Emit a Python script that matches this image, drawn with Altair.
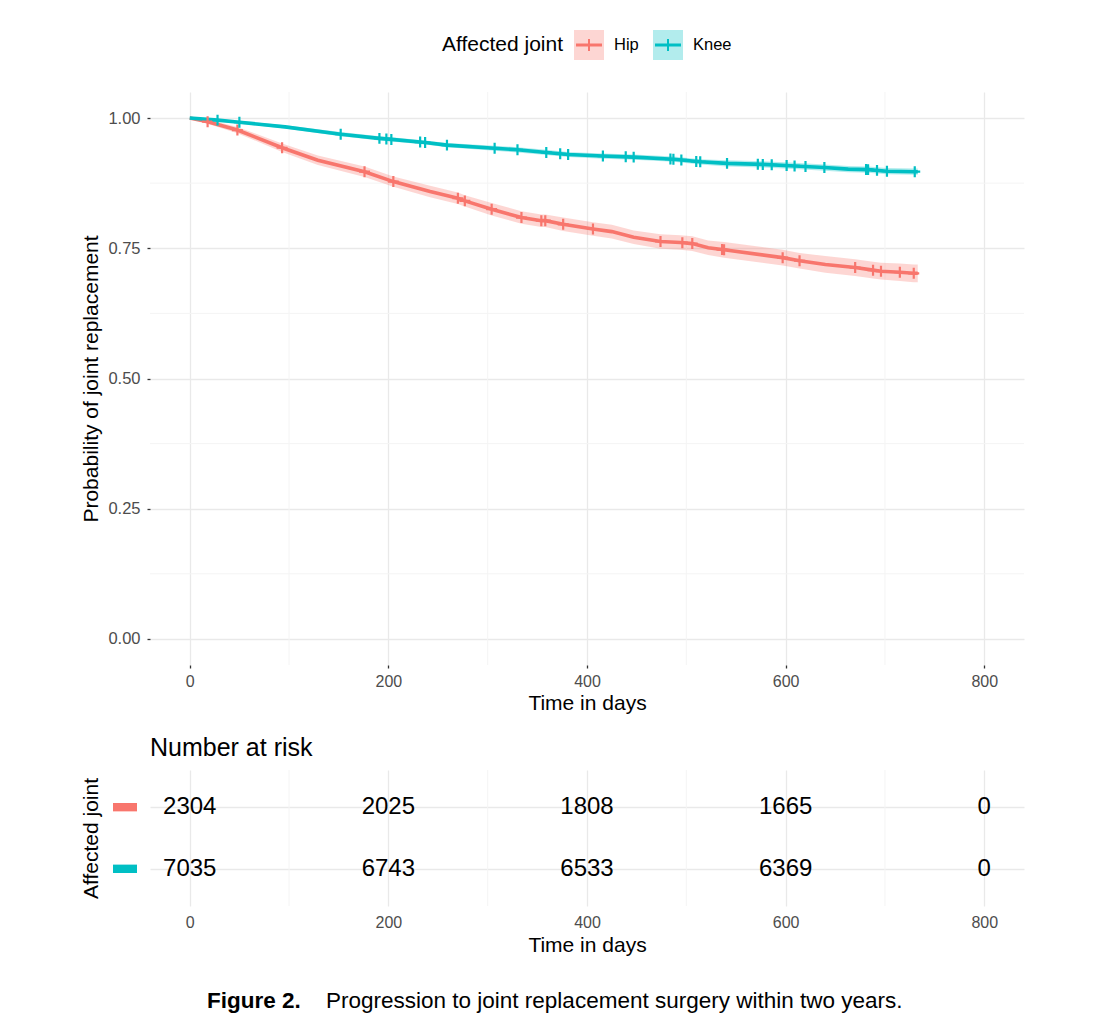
import altair as alt
import numpy as np
import pandas as pd

FONT = "Liberation Sans"

# Groups and their ggplot-style hues
groups = ["Hip", "Knee"]
colors = ["#F8766D", "#00BFC4"]

# Kaplan-Meier estimates (days, survival probability, CI half-width)
hip_time = [0, 18, 48, 93, 129, 176, 205, 242, 270, 277, 304, 334, 354, 358, 376, 406,
            425, 447, 474, 494, 506, 522, 538, 597, 614, 640, 670, 688, 696, 715, 729, 733]
hip_surv = [1.0, 0.993, 0.977, 0.943, 0.919, 0.897, 0.878, 0.859, 0.846, 0.841, 0.825,
            0.809, 0.803, 0.803, 0.796, 0.787, 0.782, 0.771, 0.763, 0.761, 0.759, 0.751,
            0.747, 0.732, 0.726, 0.719, 0.713, 0.708, 0.706, 0.704, 0.702, 0.702]
hip_half = [0.0, 0.004, 0.006, 0.008, 0.009, 0.010, 0.010, 0.011, 0.011, 0.011, 0.012,
            0.012, 0.012, 0.012, 0.013, 0.013, 0.013, 0.013, 0.014, 0.014, 0.014, 0.014,
            0.015, 0.015, 0.015, 0.016, 0.016, 0.016, 0.016, 0.017, 0.017, 0.017]
hip_censor = [18, 48, 93, 176, 205, 270, 277, 304, 334, 354, 358, 376, 406, 474, 496,
              506, 536, 538, 597, 614, 670, 688, 696, 715, 729]

knee_time = [0, 28, 50, 96, 152, 191, 203, 237, 259, 307, 330, 359, 381, 416, 447, 487,
             514, 541, 577, 609, 639, 663, 683, 702, 730, 733]
knee_surv = [1.0, 0.996, 0.992, 0.983, 0.969, 0.961, 0.959, 0.953, 0.948, 0.942, 0.939,
             0.934, 0.930, 0.927, 0.925, 0.921, 0.916, 0.913, 0.911, 0.908, 0.905, 0.902,
             0.901, 0.898, 0.897, 0.897]
knee_half = [0.0, 0.002, 0.003, 0.003, 0.004, 0.004, 0.004, 0.004, 0.004, 0.005, 0.005,
             0.005, 0.005, 0.005, 0.005, 0.005, 0.005, 0.006, 0.006, 0.006, 0.006, 0.006,
             0.006, 0.006, 0.006, 0.006]
knee_censor = [28, 50, 152, 191, 198, 203, 232, 237, 259, 307, 330, 359, 373, 381, 416,
               439, 447, 484, 487, 495, 510, 514, 541, 572, 577, 586, 601, 609, 620, 639,
               681, 683, 692, 702, 730]

# Number at risk table
risk_times = [0, 200, 400, 600, 800]
hip_risk = [2304, 2025, 1808, 1665, 0]
knee_risk = [7035, 6743, 6533, 6369, 0]

x_breaks = [0, 200, 400, 600, 800]
x_minor = [100, 300, 500, 700]
y_breaks = [0.0, 0.25, 0.5, 0.75, 1.0]
y_minor = [0.125, 0.375, 0.625, 0.875]

caption_label = "Figure 2."
caption_text = "Progression to joint replacement surgery within two years."

# ---- tables built from the arrays above ----
curves = pd.concat([
    pd.DataFrame({"time": hip_time, "surv": hip_surv,
                  "lower": np.array(hip_surv) - np.array(hip_half),
                  "upper": np.array(hip_surv) + np.array(hip_half),
                  "joint": "Hip", "order": range(len(hip_time))}),
    pd.DataFrame({"time": knee_time, "surv": knee_surv,
                  "lower": np.array(knee_surv) - np.array(knee_half),
                  "upper": np.array(knee_surv) + np.array(knee_half),
                  "joint": "Knee", "order": range(len(knee_time))}),
])
censors = pd.concat([
    pd.DataFrame({"time": hip_censor, "surv": np.interp(hip_censor, hip_time, hip_surv),
                  "joint": "Hip"}),
    pd.DataFrame({"time": knee_censor, "surv": np.interp(knee_censor, knee_time, knee_surv),
                  "joint": "Knee"}),
])
risk = pd.concat([
    pd.DataFrame({"time": risk_times, "n": hip_risk, "joint": "Hip"}),
    pd.DataFrame({"time": risk_times, "n": knee_risk, "joint": "Knee"}),
])
minor_x = pd.DataFrame({"x": x_minor})
minor_y = pd.DataFrame({"y": y_minor})
caption = pd.DataFrame({"label": [caption_label], "text": [caption_text]})

x_scale = alt.Scale(domain=[-40, 840], nice=False, zero=False)
y_scale = alt.Scale(domain=[-0.05, 1.05], nice=False, zero=False)
color_scale = alt.Scale(domain=groups, range=colors)

GRID = "#e9e9e9"
MINOR = "#f4f4f4"


def x_axis(ticks):
    return alt.Axis(values=x_breaks, grid=True, gridColor=GRID, gridWidth=1.3,
                    domain=False, ticks=ticks, tickColor="#333333", tickSize=3,
                    tickWidth=1.3, labelFontSize=16, labelColor="#4d4d4d",
                    labelPadding=5 if ticks else 8, labelFont=FONT, title="Time in days",
                    titleFontSize=21, titleFontWeight="normal", titleColor="black",
                    titleFont=FONT, titlePadding=3 if ticks else 4)


x_enc = alt.X("time:Q", scale=x_scale, axis=x_axis(True))
y_enc = alt.Y("surv:Q", scale=y_scale,
              axis=alt.Axis(values=y_breaks, format=".2f", grid=True, gridColor=GRID,
                            gridWidth=1.3, domain=False, tickColor="#333333", tickSize=3,
                            tickWidth=1.3, labelFontSize=16.5, labelColor="#4d4d4d",
                            labelPadding=7, labelFont=FONT,
                            title="Probability of joint replacement", titleFontSize=21,
                            titleFontWeight="normal", titleColor="black", titleFont=FONT,
                            titlePadding=6))
color_enc = alt.Color("joint:N", scale=color_scale, legend=None)

minor_v = alt.Chart(minor_x).mark_rule(color=MINOR, strokeWidth=1).encode(x=alt.X("x:Q", scale=x_scale))
minor_h = alt.Chart(minor_y).mark_rule(color=MINOR, strokeWidth=1).encode(y=alt.Y("y:Q", scale=y_scale))

band = alt.Chart(curves).mark_area(opacity=0.3).encode(
    x=alt.X("time:Q", scale=x_scale),
    y=alt.Y("lower:Q", scale=y_scale), y2="upper:Q",
    fill=alt.Fill("joint:N", scale=color_scale, legend=None),
    detail="joint:N")
line = alt.Chart(curves).mark_line(strokeWidth=3.6).encode(
    x=x_enc, y=y_enc, color=color_enc, order="order:Q")
plus = alt.Chart(censors).mark_point(
    shape="M-1,0L1,0M0,-1L0,1", size=120, strokeWidth=2.2, filled=False, opacity=1
).encode(x=alt.X("time:Q", scale=x_scale), y=alt.Y("surv:Q", scale=y_scale), color=color_enc)

# Legend drawn above the panel: title, shaded key boxes with line and cross, labels
legend_layers = [
    alt.Chart(caption).mark_text(align="right", baseline="middle", fontSize=21,
                                 font=FONT, color="black").encode(
        x=alt.value(413), y=alt.value(-47), text=alt.value("Affected joint")),
]
key_left = [424, 503]
for g, c, kx in zip(groups, colors, key_left):
    legend_layers += [
        alt.Chart(caption).mark_rect(color=c, opacity=0.3).encode(
            x=alt.value(kx), x2=alt.value(kx + 30), y=alt.value(-62), y2=alt.value(-32)),
        alt.Chart(caption).mark_rule(color=c, strokeWidth=3).encode(
            x=alt.value(kx + 2), x2=alt.value(kx + 28), y=alt.value(-47)),
        alt.Chart(caption).mark_rule(color=c, strokeWidth=2).encode(
            x=alt.value(kx + 15), y=alt.value(-53), y2=alt.value(-41)),
        alt.Chart(caption).mark_text(align="left", baseline="middle", fontSize=16.5,
                                     font=FONT, color="black").encode(
            x=alt.value(kx + 40), y=alt.value(-47), text=alt.value(g)),
    ]

top = alt.layer(minor_v, minor_h, band, line, plus, *legend_layers).properties(
    width=874, height=573)

# Number-at-risk table
row_scale = alt.Scale(type="point", domain=groups, padding=0.6)
row_axis = alt.Axis(labels=False, ticks=False, domain=False, grid=True, gridColor=GRID,
                    gridWidth=1.3, title="Affected joint", titleFontSize=21,
                    titleFontWeight="normal", titleColor="black", titleFont=FONT,
                    titlePadding=49)

t_minor = alt.Chart(minor_x).mark_rule(color=MINOR, strokeWidth=1).encode(x=alt.X("x:Q", scale=x_scale))
t_text = alt.Chart(risk).mark_text(fontSize=24, font=FONT, color="black").encode(
    x=alt.X("time:Q", scale=x_scale, axis=x_axis(False)),
    y=alt.Y("joint:N", scale=row_scale, axis=row_axis, sort=groups),
    text="n:Q")
t_keys = alt.Chart(risk).mark_rule(strokeWidth=8).encode(
    x=alt.value(-37), x2=alt.value(-13),
    y=alt.Y("joint:N", scale=row_scale, sort=groups), color=color_enc)
cap_bold = alt.Chart(caption).mark_text(align="left", baseline="middle", fontSize=22.5,
                                        fontWeight="bold", font=FONT, color="black").encode(
    x=alt.value(57), y=alt.value(231), text="label:N")
cap_text = alt.Chart(caption).mark_text(align="left", baseline="middle", fontSize=22.5,
                                        font=FONT, color="black").encode(
    x=alt.value(176), y=alt.value(231), text="text:N")

table = alt.layer(t_minor, t_text, t_keys, cap_bold, cap_text).properties(
    width=874, height=136,
    title=alt.TitleParams("Number at risk", anchor="start", frame="group", fontSize=25,
                          fontWeight="normal", font=FONT, color="black", offset=9))

chart = alt.vconcat(top, table, spacing=22).properties(
    padding={"left": 80, "top": 30, "right": 10, "bottom": 10},
    background="white",
).configure_view(stroke=None)

chart.save("out.html", embed_options={"renderer": "svg", "actions": False})
